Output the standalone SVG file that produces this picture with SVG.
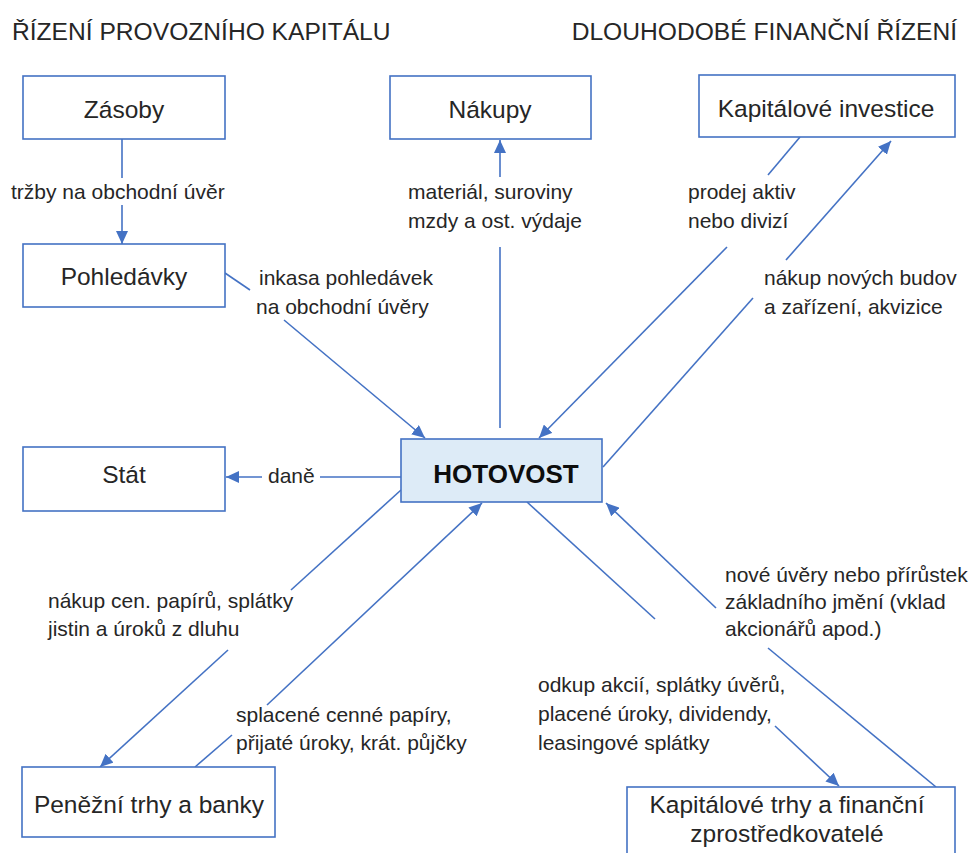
<svg xmlns="http://www.w3.org/2000/svg" width="978" height="853" viewBox="0 0 978 853">
<style>
.bg{fill:#ffffff}
.box{fill:#ffffff;stroke:#4472C4;stroke-width:1.6}
.cash{fill:#DDEBF7;stroke:#4472C4;stroke-width:1.6}
.t{font-family:"Liberation Sans",Arial,sans-serif;fill:#262626}
.title{font-size:24.6px}
.node{font-size:24.5px;text-anchor:middle}
.hot{font-size:26px;font-weight:bold;text-anchor:middle;fill:#0d0d0d}
.lbl{font-size:21px}
.ln{fill:none;stroke:#4472C4;stroke-width:1.6}
</style>
<defs>
<marker id="ah" markerUnits="userSpaceOnUse" markerWidth="14" markerHeight="12" refX="13" refY="6" orient="auto">
<path d="M0,0 L13,6 L0,12 z" fill="#4472C4"/>
</marker>
</defs>
<rect class="bg" x="0" y="0" width="978" height="853"/>

<text class="t title" x="12" y="40">ŘÍZENÍ PROVOZNÍHO KAPITÁLU</text>
<text class="t title" x="957" y="40" text-anchor="end">DLOUHODOBÉ FINANČNÍ ŘÍZENÍ</text>

<g id="connectors">
<path class="ln" d="M122,139 V178"/>
<path class="ln" d="M122,205 V244" marker-end="url(#ah)"/>
<path class="ln" d="M500,428 V247"/>
<path class="ln" d="M500,177 V140" marker-end="url(#ah)"/>
<path class="ln" d="M800,137 L768,175"/>
<path class="ln" d="M727,247 L539,438" marker-end="url(#ah)"/>
<path class="ln" d="M603,467 L753,298"/>
<path class="ln" d="M786,260 L891,141" marker-end="url(#ah)"/>
<path class="ln" d="M225,273 L250,290"/>
<path class="ln" d="M284,320 L425,438" marker-end="url(#ah)"/>
<path class="ln" d="M401,477 H320"/>
<path class="ln" d="M262,477 H226" marker-end="url(#ah)"/>
<path class="ln" d="M401,490 L291,590"/>
<path class="ln" d="M228,650 L100,767" marker-end="url(#ah)"/>
<path class="ln" d="M195,767 L232,735"/>
<path class="ln" d="M267,705 L482,503" marker-end="url(#ah)"/>
<path class="ln" d="M527,502 L655,619"/>
<path class="ln" d="M775,726 L839,786" marker-end="url(#ah)"/>
<path class="ln" d="M936,787 L768,648"/>
<path class="ln" d="M716,608 L606,503" marker-end="url(#ah)"/>
</g>

<g id="zasoby">
<rect class="box" x="23" y="76" width="202" height="63"/>
<text class="t node" x="124" y="118">Zásoby</text>
</g>
<g id="nakupy">
<rect class="box" x="390" y="76" width="201" height="63"/>
<text class="t node" x="490" y="118">Nákupy</text>
</g>
<g id="kapitalove-investice">
<rect class="box" x="699" y="75" width="256" height="62"/>
<text class="t node" x="826" y="117">Kapitálové investice</text>
</g>
<g id="pohledavky">
<rect class="box" x="23" y="244" width="202" height="63"/>
<text class="t node" x="124" y="285">Pohledávky</text>
</g>
<g id="stat">
<rect class="box" x="23" y="447" width="202" height="64"/>
<text class="t node" x="124" y="483">Stát</text>
</g>
<g id="hotovost">
<rect class="cash" x="401" y="439" width="201" height="63"/>
<text class="t hot" x="506" y="483">HOTOVOST</text>
</g>
<g id="penezni-trhy">
<rect class="box" x="22" y="767" width="253" height="70"/>
<text class="t node" x="149" y="813">Peněžní trhy a banky</text>
</g>
<g id="kapitalove-trhy">
<rect class="box" x="627" y="787" width="328" height="90"/>
<text class="t node" x="787" y="813">Kapitálové trhy a finanční</text>
<text class="t node" x="787" y="842">zprostředkovatelé</text>
</g>

<g id="labels">
<text class="t lbl" x="11" y="199">tržby na obchodní úvěr</text>
<text class="t lbl" x="408" y="199">materiál, suroviny</text>
<text class="t lbl" x="408" y="228">mzdy a ost. výdaje</text>
<text class="t lbl" x="688" y="199">prodej aktiv</text>
<text class="t lbl" x="688" y="228">nebo divizí</text>
<text class="t lbl" x="259" y="285">inkasa pohledávek</text>
<text class="t lbl" x="256" y="314">na obchodní úvěry</text>
<text class="t lbl" x="764" y="285">nákup nových budov</text>
<text class="t lbl" x="764" y="314">a zařízení, akvizice</text>
<text class="t lbl" x="268" y="483">daně</text>
<text class="t lbl" x="48" y="608">nákup cen. papírů, splátky</text>
<text class="t lbl" x="48" y="636">jistin a úroků z dluhu</text>
<text class="t lbl" x="236" y="722">splacené cenné papíry,</text>
<text class="t lbl" x="236" y="750">přijaté úroky, krát. půjčky</text>
<text class="t lbl" x="725" y="582">nové úvěry nebo přírůstek</text>
<text class="t lbl" x="725" y="609">základního jmění (vklad</text>
<text class="t lbl" x="725" y="636">akcionářů apod.)</text>
<text class="t lbl" x="538" y="692">odkup akcií, splátky úvěrů,</text>
<text class="t lbl" x="538" y="721">placené úroky, dividendy,</text>
<text class="t lbl" x="538" y="750">leasingové splátky</text>
</g>
</svg>
